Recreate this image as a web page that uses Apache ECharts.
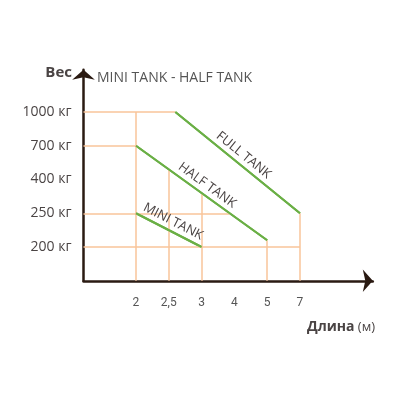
<!DOCTYPE html>
<html><head><meta charset="utf-8">
<script src="https://cdn.jsdelivr.net/npm/echarts@6/dist/echarts.min.js"></script>
<style>html,body{margin:0;padding:0;background:#fff}#c{width:400px;height:400px}</style>
</head><body><div id="c"></div>
<script>
// ---- data ----
const chartTitle = 'MINI TANK - HALF TANK';
const yAxisTitle = 'Вес';
const xAxisTitle = 'Длина';
const xAxisUnit = '(м)';
const xTickValues = [2, 2.5, 3, 4, 5, 7];
const xTickLabels = ['2', '2,5', '3', '4', '5', '7'];
const yTickValues = [200, 250, 400, 700, 1000];
const yTickLabels = ['200 кг', '250 кг', '400 кг', '700 кг', '1000 кг'];
const tankNames = ['FULL TANK', 'HALF TANK', 'MINI TANK'];
const tankLength = [[2.6, 7], [2, 5], [2, 3]];        // m (start, end)
const tankWeight = [[1000, 250], [700, 210], [250, 200]]; // kg (start, end)

// schematic (non-linear) axes: tick values sit at evenly spaced positions
function toIdx(v, vals) {
  if (v <= vals[0]) return (v - vals[0]) / (vals[1] - vals[0]);
  for (let i = 0; i < vals.length - 1; i++) {
    if (v <= vals[i + 1]) return i + (v - vals[i]) / (vals[i + 1] - vals[i]);
  }
  const n = vals.length - 1;
  return n + (v - vals[n]) / (vals[n] - vals[n - 1]);
}
const X = v => toIdx(v, xTickValues);
const Y = v => toIdx(v, yTickValues);
const X_MIN = -1.6, X_MAX = 7.22, Y_MIN = -1, Y_MAX = 5.25;

const tanks = tankNames.map((n, i) => [
  [X(tankLength[i][0]), Y(tankWeight[i][0])],
  [X(tankLength[i][1]), Y(tankWeight[i][1])]
]);
function yAtX(seg, xi) { const [a, b] = seg; return a[1] + (b[1] - a[1]) * (xi - a[0]) / (b[0] - a[0]); }
function xAtY(seg, yi) { const [a, b] = seg; return a[0] + (b[0] - a[0]) * (yi - a[1]) / (b[1] - a[1]); }
const full = tanks[0], half = tanks[1];

// guide lines from the axes to the tank lines
const hGuides = [
  [Y(1000), full[0][0]],
  [Y(700), half[0][0]],
  [Y(250), xAtY(half, Y(250))],
  [Y(200), X(7)]
];
const vGuides = [
  [X(2), Y(1000)],
  [X(2.5), yAtX(half, X(2.5))],
  [X(3), yAtX(half, X(3))],
  [X(5), half[1][1]],
  [X(7), full[1][1]]
];
const guideData = [];
hGuides.forEach(([y, x]) => guideData.push([{ coord: [X_MIN, y] }, { coord: [x, y] }]));
vGuides.forEach(([x, y]) => guideData.push([{ coord: [x, Y_MIN] }, { coord: [x, y] }]));

const AXIS = '#2a1a12', GUIDE = '#f9c49a', GREEN = '#6aaf45', TEXT = '#4a4444';

const series = [{
  type: 'line', data: [], silent: true, z: 1,
  markLine: { silent: true, symbol: 'none', animation: false,
    lineStyle: { color: GUIDE, width: 1.5, type: 'solid' }, label: { show: false },
    data: guideData }
}];
tanks.forEach((seg, i) => {
  series.push({
    type: 'line', data: seg, showSymbol: false, silent: true, z: 3, animation: false,
    lineStyle: { color: GREEN, width: 2 },
    markLine: { silent: true, symbol: 'none', animation: false,
      lineStyle: { color: GREEN, width: 2, type: 'solid' },
      label: { show: true, position: 'insideMiddleTop', distance: 3, formatter: tankNames[i],
        color: TEXT, fontSize: 13, fontFamily: 'Open Sans' },
      data: [[{ coord: seg[0] }, { coord: seg[1] }]] }
  });
});

const chart = echarts.init(document.getElementById('c'));
chart.setOption({
  animation: false,
  title: { text: chartTitle, left: 92, top: 66,
    textStyle: { color: '#555', fontSize: 14, fontWeight: 'normal', fontFamily: 'Open Sans' } },
  grid: { left: 83.5, right: 400 - 83.5 - 32.8 * (X_MAX - X_MIN), top: 247 - 33.75 * Y_MAX, bottom: 119.25 },
  xAxis: { type: 'value', min: X_MIN, max: X_MAX,
    axisLine: { show: true, onZero: false, symbol: ['none', 'arrow'], symbolSize: [17, 10],
      lineStyle: { color: AXIS, width: 2.5 } },
    axisTick: { show: false }, splitLine: { show: false },
    axisLabel: { customValues: xTickValues.map(X), margin: 16, color: '#555', fontSize: 12, fontFamily: 'Roboto',
      formatter: v => xTickLabels[Math.round(v)] } },
  yAxis: { type: 'value', min: Y_MIN, max: Y_MAX,
    axisLine: { show: true, onZero: false, symbol: ['none', 'arrow'], symbolSize: [17, 10],
      lineStyle: { color: AXIS, width: 2.5 } },
    axisTick: { show: false }, splitLine: { show: false },
    axisLabel: { customValues: yTickValues.map(Y), margin: 12, color: TEXT, fontSize: 14, fontFamily: 'Open Sans',
      formatter: v => yTickLabels[Math.round(v)] } },
  graphic: [
    { type: 'text', right: 400 - 72, top: 65,
      style: { text: yAxisTitle, fill: TEXT, font: 'bold 15px "Open Sans"' } },
    { type: 'text', right: 25, top: 320,
      style: { text: '{b|' + xAxisTitle + '} {n|' + xAxisUnit + '}',
        rich: { b: { fill: TEXT, fontWeight: 'bold', fontSize: 14, fontFamily: 'Open Sans' },
                n: { fill: TEXT, fontSize: 13, fontFamily: 'Open Sans' } } } }
  ],
  series: series
});
</script></body></html>
